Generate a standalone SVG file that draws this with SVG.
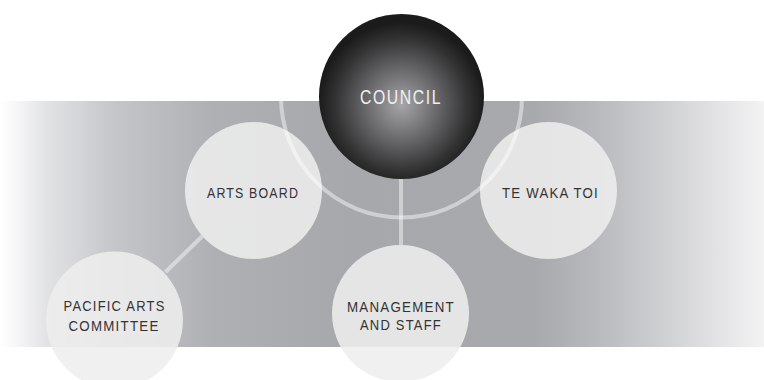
<svg xmlns="http://www.w3.org/2000/svg" width="764" height="380" viewBox="0 0 764 380">
<defs>
<linearGradient id="band" x1="0" y1="0" x2="764" y2="0" gradientUnits="userSpaceOnUse">
<stop offset="0" stop-color="#ffffff"/>
<stop offset="0.02" stop-color="#f7f7f8"/>
<stop offset="0.06" stop-color="#e2e3e5"/>
<stop offset="0.15" stop-color="#c5c6c9"/>
<stop offset="0.28" stop-color="#afb0b3"/>
<stop offset="0.45" stop-color="#a7a8ab"/>
<stop offset="0.70" stop-color="#a8a9ac"/>
<stop offset="0.78" stop-color="#b8b9bc"/>
<stop offset="0.88" stop-color="#d2d3d5"/>
<stop offset="1" stop-color="#f3f3f4"/>
</linearGradient>
<radialGradient id="ball" cx="0.5" cy="0.55" r="0.5">
<stop offset="0" stop-color="#a6a6a8"/>
<stop offset="0.45" stop-color="#666668"/>
<stop offset="0.8" stop-color="#333334"/>
<stop offset="1" stop-color="#1b1b1b"/>
</radialGradient>
</defs>
<style>
.node{fill:#eeeeee;fill-opacity:0.87}
.lbl{font-family:"Liberation Sans",Arial,sans-serif;font-size:15px;fill:#333333;text-anchor:middle;letter-spacing:1.4px}
.wl{font-family:"Liberation Sans",Arial,sans-serif;font-size:20px;fill:#f0f0f0;text-anchor:middle;letter-spacing:2px}
.con{fill:none;stroke:#ffffff;stroke-opacity:0.45;stroke-width:4}
</style>
<rect x="0" y="101" width="764" height="246" fill="url(#band)"/>
<g id="arts-board">
<circle class="node" cx="253.5" cy="190.5" r="68.5"/>
<text class="lbl" x="253" y="197.5" textLength="92" lengthAdjust="spacingAndGlyphs">ARTS BOARD</text>
</g>
<g id="te-waka-toi">
<circle class="node" cx="548.5" cy="190.5" r="68.5"/>
<text class="lbl" x="550.5" y="197.5" textLength="97" lengthAdjust="spacingAndGlyphs">TE WAKA TOI</text>
</g>
<g id="pacific-arts-committee">
<circle class="node" cx="114.5" cy="320" r="68.5"/>
<text class="lbl" x="114.5" y="311" textLength="102" lengthAdjust="spacingAndGlyphs">PACIFIC ARTS</text>
<text class="lbl" x="114" y="330.5" textLength="91" lengthAdjust="spacingAndGlyphs">COMMITTEE</text>
</g>
<g id="management-and-staff">
<circle class="node" cx="400.5" cy="313.5" r="68.5"/>
<text class="lbl" x="401" y="311.5" textLength="108" lengthAdjust="spacingAndGlyphs">MANAGEMENT</text>
<text class="lbl" x="401" y="330" textLength="82" lengthAdjust="spacingAndGlyphs">AND STAFF</text>
</g>
<g id="connectors">
<path class="con" d="M281 97 A120.5 120.5 0 0 0 522 97"/>
<line class="con" x1="401" y1="179" x2="401" y2="245"/>
<line class="con" x1="202.5" y1="236" x2="165.5" y2="272"/>
</g>
<g id="council">
<circle cx="401.5" cy="96.5" r="82.5" fill="url(#ball)"/>
<text class="wl" x="401" y="104" textLength="82" lengthAdjust="spacingAndGlyphs">COUNCIL</text>
</g>
</svg>
